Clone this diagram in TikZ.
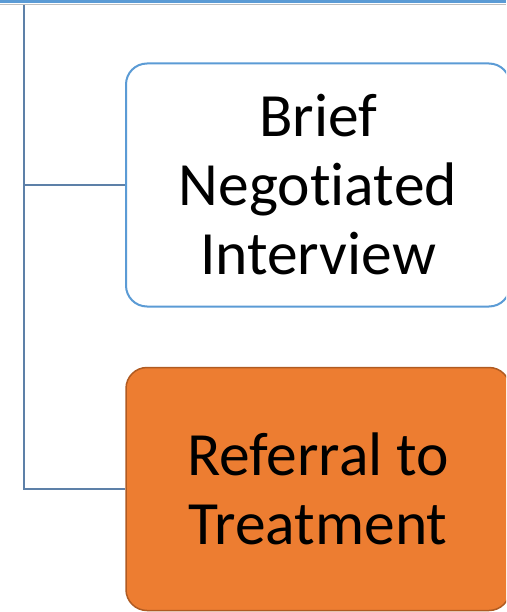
\documentclass[tikz,border=0pt]{standalone}
\usepackage{fontspec}
\setmainfont{Carlito}[Ligatures=NoCommon]
\definecolor{bandblue}{HTML}{5B9BD5}
\definecolor{bandgray}{HTML}{BFBFBF}
\definecolor{trunk}{HTML}{5D80A8}
\definecolor{boxblue}{HTML}{5B9BD5}
\definecolor{orangefill}{HTML}{ED7D31}
\definecolor{orangeline}{HTML}{B05B22}
\begin{document}
\begin{tikzpicture}[x=1pt,y=-1pt,
  stepbox/.style={rectangle, rounded corners=21pt, minimum width=384pt, minimum height=243pt,
     inner sep=0pt, align=center, font=\fontsize{61.5}{69}\selectfont, text=black},
  whitebox/.style={stepbox, draw=boxblue, line width=2pt, fill=white},
  orangebox/.style={stepbox, draw=orangeline, line width=1.5pt, fill=orangefill},
  link/.style={draw=trunk, line width=2pt}]
\useasboundingbox (0,0) rectangle (506,612);
\clip (0,0) rectangle (506,612);
\fill[bandblue] (0,0) rectangle (506,3.2);
\draw[bandgray, line width=1.2pt] (0,4.6) -- (506,4.6);
\node[whitebox] (b1) at (318,185) {Brief\\Negot\kern0pt iat\kern0pt ed\\Interview};
\node[orangebox] (b2) at (318,489) {Referral to\\Treatment};
\coordinate (top) at (23.5,5.2);
\draw[link] (top) |- (b1.west);
\draw[link] (top) |- (b2.west);
\end{tikzpicture}
\end{document}
